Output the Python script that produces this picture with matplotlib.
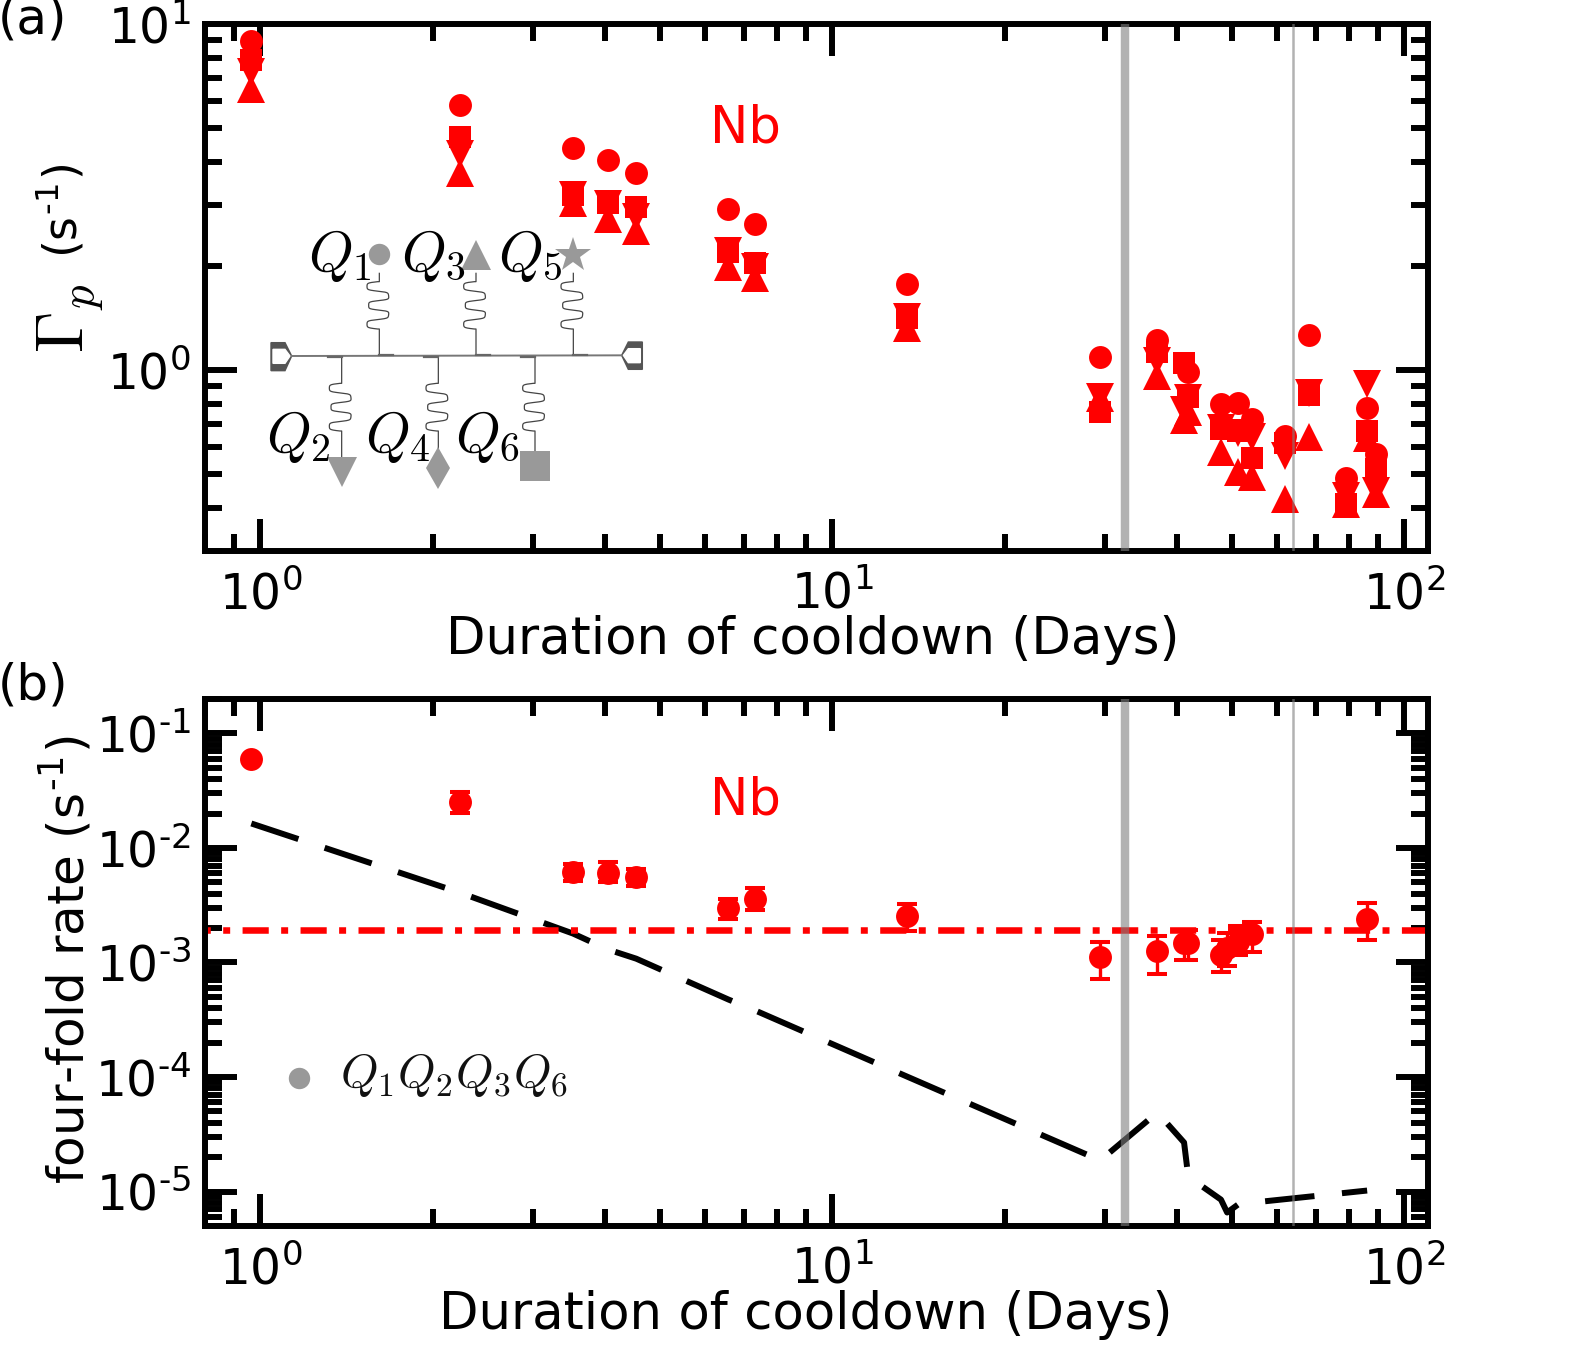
import numpy as np
import matplotlib
matplotlib.use("Agg")
import matplotlib.pyplot as plt
from matplotlib.ticker import LogLocator, NullFormatter, FuncFormatter

# =====================================
# Data
# =====================================

days_a = [0.964, 2.23, 3.52, 4.05, 4.54, 6.58, 7.33, 13.5, 29.4, 37.0,
          41.2, 41.9, 47.8, 51.2, 54.2, 61.9, 68.2, 79.1, 86.1, 89.3]

rate_circle = [8.95, 5.83, 4.39, 4.05, 3.70, 2.92, 2.64, 1.77, 1.093, 1.22,
               np.nan, 0.99, 0.797, 0.804, 0.721, 0.644, 1.26, 0.487, 0.778, 0.571]
rate_square = [7.86, 4.73, 3.21, 3.03, 2.95, 2.20, 2.04, 1.41, 0.755, 1.13,
               1.047, 0.835, 0.675, 0.665, 0.556, 0.614, 0.846, 0.411, 0.665, 0.516]
rate_down = [7.26, 4.20, 3.21, 3.01, 2.77, 2.21, 1.99, 1.42, 0.835, 1.06,
             0.767, 0.83, 0.68, 0.66, 0.64, 0.563, 0.857, 0.434, 0.911, 0.446]
rate_up = [6.49, 3.71, 3.03, 2.74, 2.53, 1.98, 1.85, 1.32, 0.83, 0.963,
           0.716, 0.755, 0.579, 0.506, 0.49, 0.423, 0.64, 0.409, 0.635, 0.437]

days_b = [0.964, 2.23, 3.52, 4.05, 4.54, 6.58, 7.33, 13.5, 29.4, 37.0,
          41.2, 41.9, 47.8, 49.0, 51.2, 54.2, 86.1]

fourfold = [0.0593, 0.0251, 0.00611, 0.0061, 0.0056, 0.00301, 0.00355, 0.00254, 0.00112,
            0.00126, 0.00147, 0.00147, 0.00117, 0.00135, 0.00152, 0.00176, 0.00242]
fourfold_hi = [0.061, 0.0307, 0.00718, 0.00747, 0.00649, 0.00362, 0.00443, 0.00326, 0.00152,
               0.00172, 0.00191, 0.00191, 0.00156, 0.0018, 0.0021, 0.00225, 0.0033]
fourfold_lo = [0.058, 0.0201, 0.0052, 0.005, 0.00464, 0.00241, 0.0029, 0.00188, 0.00072,
               0.000786, 0.00105, 0.00105, 0.00082, 0.00094, 0.00117, 0.00123, 0.00157]

uncorrelated = [0.01637, 0.00408, 0.00179, 0.0013, 0.00108, 0.000475, 0.000381, 0.000101,
                1.87e-5, 4.9e-5, 2.68e-5, 1.35e-5, 8.5e-6, 6.56e-6, 7.7e-6, 8.0e-6, 1.02e-5]

mean_fourfold = 0.00191
vline_days = [32.5, 64.0]
vline_widths = [6.1, 1.8]

W, H = 1576, 1345
RED = "#ff0000"
GRAY = "#999999"
HYPHEN = "\u2010"

plt.rcParams["mathtext.fontset"] = "cm"
plt.rcParams["font.family"] = "DejaVu Sans"


def px_rect(left, top, right, bottom):
    return [left / W, 1 - bottom / H, (right - left) / W, (bottom - top) / H]


def power_label(value, pos):
    exponent = int(round(np.log10(value)))
    if exponent < 0:
        return "$\\mathregular{10^{" + HYPHEN + str(-exponent) + "}}$"
    return "$\\mathregular{10^{" + str(exponent) + "}}$"


def style_axes(ax):
    ax.set_xscale("log")
    ax.set_yscale("log")
    ax.set_xlim(0.8, 110)
    for spine in ax.spines.values():
        spine.set_linewidth(4.3)
    ax.xaxis.set_minor_locator(LogLocator(base=10, subs=range(2, 10), numticks=50))
    ax.yaxis.set_minor_locator(LogLocator(base=10, subs=range(2, 10), numticks=50))
    ax.xaxis.set_minor_formatter(NullFormatter())
    ax.yaxis.set_minor_formatter(NullFormatter())
    ax.xaxis.set_major_formatter(FuncFormatter(power_label))
    ax.yaxis.set_major_formatter(FuncFormatter(power_label))
    ax.tick_params(which="major", direction="in", top=True, right=True,
                   length=23, width=4.3, labelsize=35)
    ax.tick_params(which="minor", direction="in", top=True, right=True,
                   length=12, width=4.3)
    ax.tick_params(axis="x", which="major", pad=14)
    ax.tick_params(axis="y", which="major", pad=10)
    for day, lw in zip(vline_days, vline_widths):
        ax.axvline(day, color="gray", alpha=0.6, lw=lw, zorder=6)


fig = plt.figure(figsize=(W / 100, H / 100), dpi=100)

# =====================================
# Panel (a)
# =====================================

ax1 = fig.add_axes(px_rect(205, 24, 1428, 551))
style_axes(ax1)
ax1.set_ylim(0.3, 10)

ax1.plot(days_a, rate_circle, "o", color=RED, ms=16.5, mew=0)
ax1.plot(days_a, rate_down, "v", color=RED, ms=20, mew=0)
ax1.plot(days_a, rate_up, "^", color=RED, ms=20, mew=0)
ax1.plot(days_a, rate_square, "s", color=RED, ms=16.5, mew=0)

ax1.text(0.4133, 0.7742, "Nb", color=RED, fontsize=37, ha="left", va="baseline",
         transform=ax1.transAxes)
ax1.set_xlabel("Duration of cooldown (Days)", fontsize=37)
ax1.xaxis.set_label_coords(0.497, -0.121)

fig.text(71 / W, 1 - 353 / H, r"$\Gamma_p$", fontsize=48, rotation=90,
         ha="center", va="bottom")
fig.text(62 / W, 1 - 211 / H, "(s$^{\\mathregular{" + HYPHEN + "1}}$)", fontsize=33, rotation=90,
         ha="center", va="center")
fig.text(-2 / W, 1 - 20 / H, "(a)", fontsize=36, ha="left", va="center")

# =====================================
# Circuit sketch
# =====================================

ax_c = fig.add_axes(px_rect(250, 230, 650, 500))
ax_c.set_xlim(0, 1200)
ax_c.set_ylim(810, 0)
ax_c.axis("off")
ax_c.patch.set_alpha(0)

ax_c.plot([125, 1115], [378, 376], color="#777777", lw=1.4)
ax_c.fill([63, 105, 125, 105, 63], [338, 338, 378, 422, 422], color="#555555")
ax_c.fill([69, 105, 120, 105, 69], [358, 358, 378, 400, 400], color="white")
ax_c.fill([1177, 1135, 1115, 1135, 1177], [336, 336, 376, 418, 418], color="#555555")
ax_c.fill([1171, 1135, 1120, 1135, 1171], [356, 356, 376, 398, 398], color="white")


def meander(x0, y0, y1):
    theta = np.linspace(0, 5 * np.pi, 300)
    xs = x0 - 5 - 32 * np.tanh(2.5 * np.sin(theta)) / np.tanh(2.5)
    xs = xs + 5 * np.sin(theta / 5) ** 8
    ys = y0 + (y1 - y0) * theta / theta[-1]
    return xs, ys


for x0 in [388, 678, 970]:
    xs, ys = meander(x0, 155, 297)
    ax_c.plot(np.r_[x0, x0, xs, x0, x0], np.r_[130, 155, ys, 297, 376], color="#444444", lw=0.9)
    ax_c.plot([x0, x0 + 42], [375, 375], color="#666666", lw=1.6)
for x0 in [275, 565, 855]:
    xs, ys = meander(x0, 460, 603)
    ax_c.plot(np.r_[x0, x0, xs, x0, x0], np.r_[380, 460, ys, 603, 680], color="#444444", lw=0.9)
    ax_c.plot([x0 - 42, x0], [381, 381], color="#666666", lw=1.6)

ax_c.plot(387, 73, "o", color=GRAY, ms=15.4, mew=0)
ax_c.plot(678, 75, "^", color=GRAY, ms=21.6, mew=0)
ax_c.plot(970, 75, "*", color=GRAY, ms=26.5, mew=0)
ax_c.plot(275, 725, "v", color=GRAY, ms=21.6, mew=0)
ax_c.plot(565, 715, "d", color=GRAY, ms=21, mew=0)
ax_c.plot(856, 708, "s", color=GRAY, ms=21.6, mew=0)

for label, qx, qy in [("$Q_1$", 174, 122), ("$Q_3$", 452, 122), ("$Q_5$", 744, 122),
                      ("$Q_2$", 49, 665), ("$Q_4$", 344, 665), ("$Q_6$", 616, 665)]:
    ax_c.text(qx, qy, label, fontsize=41, ha="left", va="baseline", color="black")

# =====================================
# Panel (b)
# =====================================

ax2 = fig.add_axes(px_rect(205, 699, 1428, 1226))
style_axes(ax2)
ax2.set_ylim(5e-6, 0.2)

rate = np.array(fourfold)
yerr = [rate - np.array(fourfold_lo), np.array(fourfold_hi) - rate]
ax2.errorbar(days_b, rate, yerr=yerr, fmt="none", ecolor=RED,
             capsize=6.9, capthick=2.9, elinewidth=2.4)
ax2.plot(days_b, rate, "o", color=RED, ms=16.5, mew=0)

ax2.plot(days_b, uncorrelated, color="black", lw=4.3, dash_capstyle="butt",
         linestyle=(0, (8.3, 4.63)))
ax2.axhline(mean_fourfold, color=RED, lw=4.7, dash_capstyle="butt",
            linestyle=(3.2, (4.01, 1.9, 1.07, 1.9)))

ax2.plot(0.0769, 0.281, "o", color=GRAY, ms=15.4, mew=0, transform=ax2.transAxes)
ax2.text(0.1104, 0.262, "$Q_1Q_2Q_3Q_6$", fontsize=34.5, ha="left", va="baseline",
         color="#111111", transform=ax2.transAxes)
ax2.text(0.4133, 0.78, "Nb", color=RED, fontsize=37, ha="left", va="baseline",
         transform=ax2.transAxes)

ax2.set_xlabel("Duration of cooldown (Days)", fontsize=37)
ax2.xaxis.set_label_coords(0.491, -0.121)

fig.text(66 / W, 1 - 960 / H, "four-fold rate (s$^{\\mathregular{" + HYPHEN + "1}}$)", fontsize=36,
         rotation=90, ha="center", va="center")
fig.text(-2 / W, 1 - 686 / H, "(b)", fontsize=36, ha="left", va="center")

fig.savefig("out.png", dpi=100)
